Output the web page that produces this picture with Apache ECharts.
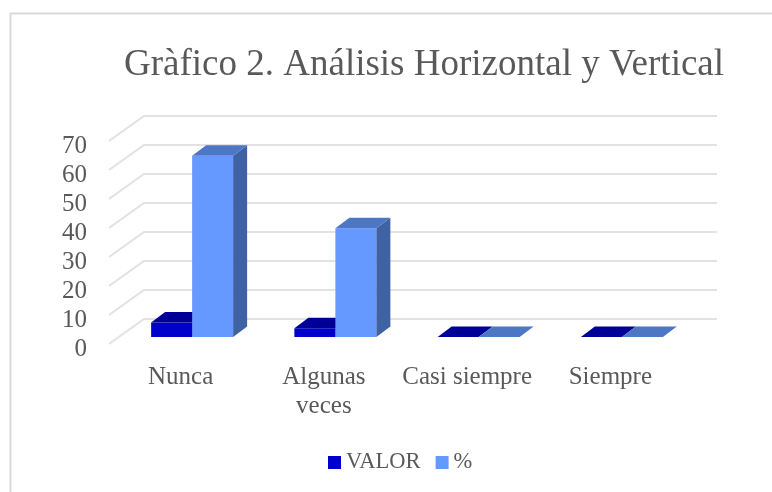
<!DOCTYPE html>
<html>
<head>
<meta charset="utf-8">
<style>
  html, body { margin: 0; padding: 0; background: #fff; }
  #chart { width: 772px; height: 492px; }
</style>
<script src="https://cdn.jsdelivr.net/npm/echarts@6/dist/echarts.min.js"></script>
</head>
<body>
<div id="chart"></div>
<script>
var categories = ["Nunca", "Algunas\nveces", "Casi siempre", "Siempre"];
var valorData = [5, 3, 0, 0];
var pctData = [62.5, 37.5, 0, 0];
var yTicks = [0, 10, 20, 30, 40, 50, 60, 70];

var chart = echarts.init(document.getElementById("chart"));

// depth of the floor and of the bars, in px
var wallDx = 35, wallDy = -25;
var barShiftX = 11.5, barShiftY = -7;
var barDx = 14, barDy = -10.5;
var barW = 41;

// back wall gridlines, front edge -> back edge -> right
function renderWall(params, api) {
  var rect = params.coordSys;
  var y = api.coord([0, api.value(0)])[1];
  return {
    type: "polyline",
    silent: true,
    shape: {
      points: [
        [rect.x, y],
        [rect.x + wallDx, y + wallDy],
        [rect.x + rect.width + wallDx, y + wallDy]
      ]
    },
    style: { fill: null, stroke: "#e2e2e2", lineWidth: 2 }
  };
}

// one 3d box: front face, top and side
function makeBar(offset, front, top, side) {
  return function (params, api) {
    var base = api.coord([api.value(0), 0]);
    var head = api.coord([api.value(0), api.value(1)]);
    var x0 = base[0] + barShiftX + offset;
    var x1 = x0 + barW;
    var yb = base[1] + barShiftY;
    var yt = head[1] + barShiftY;
    var kids = [];
    if (yb - yt > 0.5) {
      kids.push({
        type: "rect",
        shape: { x: x0, y: yt, width: barW, height: yb - yt },
        style: { fill: front }
      });
      kids.push({
        type: "polygon",
        shape: { points: [[x1, yt], [x1 + barDx, yt + barDy], [x1 + barDx, yb + barDy], [x1, yb]] },
        style: { fill: side }
      });
    }
    kids.push({
      type: "polygon",
      shape: { points: [[x0, yt], [x0 + barDx, yt + barDy], [x1 + barDx, yt + barDy], [x1, yt]] },
      style: { fill: top }
    });
    return { type: "group", children: kids };
  };
}

var option = {
  backgroundColor: "#fff",
  animation: false,
  title: {
    text: "Gràfico 2. Análisis Horizontal y Vertical",
    left: 119,
    top: 42,
    textStyle: {
      fontFamily: "Liberation Serif",
      fontSize: 37,
      fontWeight: "normal",
      color: "#595959"
    }
  },
  legend: {
    top: 446,
    left: 323,
    itemWidth: 13,
    itemHeight: 13,
    itemGap: 15,
    icon: "rect",
    data: ["VALOR", "%"],
    textStyle: { fontFamily: "Liberation Serif", fontSize: 22.5, color: "#595959" }
  },
  grid: { left: 109, right: 90, top: 141, bottom: 148 },
  xAxis: {
    type: "category",
    data: categories,
    axisLine: { show: false },
    axisTick: { show: false },
    axisLabel: {
      interval: 0,
      hideOverlap: false,
      margin: 19,
      verticalAlign: "top",
      lineHeight: 29,
      fontFamily: "Liberation Serif",
      fontSize: 25,
      color: "#595959"
    }
  },
  yAxis: {
    type: "value",
    min: 0,
    max: 70,
    interval: 10,
    axisLine: { show: false },
    axisTick: { show: false },
    splitLine: { show: false },
    axisLabel: {
      margin: 22,
      verticalAlign: "top",
      lineHeight: 10,
      fontFamily: "Liberation Serif",
      fontSize: 25,
      color: "#595959"
    }
  },
  series: [
    {
      type: "custom",
      name: "wall",
      silent: true,
      renderItem: renderWall,
      data: yTicks.map(function (t) { return [t]; }),
      encode: { y: 0 },
      z: 1
    },
    {
      type: "custom",
      name: "VALOR",
      renderItem: makeBar(-barW, "#0000cc", "#000099", "#00007a"),
      itemStyle: { color: "#0000cc" },
      data: valorData.map(function (v, i) { return [i, v]; }),
      encode: { x: 0, y: 1 },
      z: 2
    },
    {
      type: "custom",
      name: "%",
      renderItem: makeBar(0, "#6699ff", "#4d77c4", "#3f62a3"),
      itemStyle: { color: "#6699ff" },
      data: pctData.map(function (v, i) { return [i, v]; }),
      encode: { x: 0, y: 1 },
      z: 3
    }
  ],
  graphic: [
    {
      // chart frame, runs off the right and bottom of the picture
      type: "polyline",
      silent: true,
      z: 0,
      shape: { points: [[10.5, 492], [10.5, 13.5], [772, 13.5]] },
      style: { fill: null, stroke: "#d9d9d9", lineWidth: 2 }
    }
  ]
};

chart.setOption(option);
</script>
</body>
</html>
